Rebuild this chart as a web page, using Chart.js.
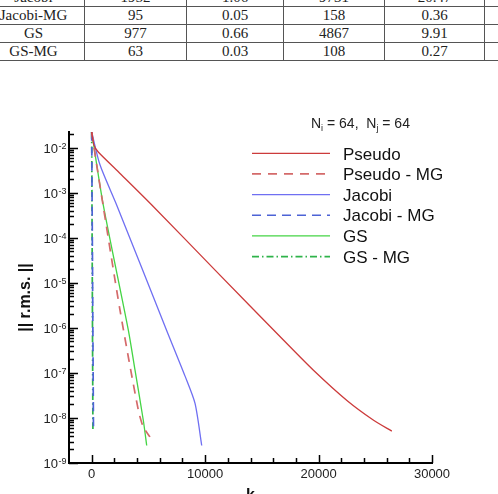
<!DOCTYPE html>
<html>
<head>
<meta charset="UTF-8">
<title>Historial de residuos</title>
<script src="https://cdn.jsdelivr.net/npm/chart.js"></script>
<style>
  body { margin:0; background:#fff; width:498px; height:494px; overflow:hidden; position:relative; }
  #grafica { position:absolute; left:0; top:0; }
  #tabla { position:absolute; left:-18px; top:-12px; border-collapse:collapse; table-layout:fixed;
           font-family:'Liberation Serif', serif; font-size:15px; color:#222; }
  #tabla td { border:1px solid #555; padding:0; text-align:center; height:17px; line-height:17px; white-space:nowrap; }
</style>
</head>
<body>

<table id="tabla"></table>
<canvas id="grafica" width="498" height="494"></canvas>

<script>
// tabla de arriba (recortada en la imagen)
const filasTabla = [
  ['Jacobi', '1952', '1.06', '9731', '20.47', ''],
  ['Jacobi-MG', '95', '0.05', '158', '0.36', ''],
  ['GS', '977', '0.66', '4867', '9.91', ''],
  ['GS-MG', '63', '0.03', '108', '0.27', '']
];
const anchosColumna = [102, 102, 97, 101, 100, 40];

// ejes
const xMarcas = [0, 10000, 20000, 30000];
const yExponentes = [-9, -8, -7, -6, -5, -4, -3, -2];

// series: iteración k y residuo rms
const kPseudo = [0, 200, 580, 2350, 5300, 10900, 16900, 19550, 22500, 24850, 26460];
const rPseudo = [2.25e-2, 1.15e-2, 8.1e-3, 2.95e-3, 5.4e-4, 1.9e-5, 5.4e-7, 1.15e-7, 2.45e-8, 8.9e-9, 5.1e-9];

const kPseudoMG = [0, 440, 1020, 2500, 4110, 4550, 5140];
const rPseudoMG = [2.25e-2, 4.2e-3, 5.0e-4, 2.45e-6, 1.5e-8, 6.3e-9, 3.8e-9];

const kJacobi = [0, 730, 2200, 6600, 8230, 9110, 9700];
const rJacobi = [2.25e-2, 4.2e-3, 5.4e-4, 8.9e-7, 8.5e-8, 2.1e-8, 2.45e-9];

const kJacobiMG = [0, 158];
const rJacobiMG = [2.25e-2, 5.4e-9];

const kGS = [0, 1020, 3230, 3820, 4550, 4850];
const rGS = [2.25e-2, 5.4e-4, 8.9e-7, 1.15e-7, 8.9e-9, 2.45e-9];

const kGSMG = [0, 108];
const rGSMG = [2.25e-2, 5.4e-9];

// armar la tabla
const tabla = document.getElementById('tabla');
const cg = document.createElement('colgroup');
anchosColumna.forEach(w => { const c = document.createElement('col'); c.style.width = w + 'px'; cg.appendChild(c); });
tabla.appendChild(cg);
filasTabla.forEach(f => {
  const tr = document.createElement('tr');
  f.forEach(t => { const td = document.createElement('td'); td.textContent = t; tr.appendChild(td); });
  tabla.appendChild(tr);
});
tabla.style.width = anchosColumna.reduce((a, b) => a + b, 0) + 'px';

function puntos(ks, rs) {
  return ks.map((k, i) => ({ x: k, y: rs[i] }));
}

const fuente = 'Liberation Sans';

// ticks hacia adentro, etiquetas 10^n, leyenda y titulos
const decoracion = {
  id: 'decoracion',
  afterDraw(chart) {
    const { ctx, chartArea: a } = chart;
    const x = chart.scales.x, y = chart.scales.y;
    ctx.save();
    ctx.strokeStyle = '#000';
    ctx.lineWidth = 1.5;
    ctx.beginPath();
    for (let v = 0; v <= x.max; v += 2000) {
      const px = Math.round(x.getPixelForValue(v)) + 0.5;
      const largo = v % 10000 === 0 ? 8 : 5;
      ctx.moveTo(px, a.bottom); ctx.lineTo(px, a.bottom - largo);
    }
    yExponentes.forEach(e => {
      for (let m = 1; m <= 9; m++) {
        const v = m * Math.pow(10, e);
        if (v > y.max) break;
        const py = Math.round(y.getPixelForValue(v)) + 0.5;
        ctx.moveTo(a.left, py); ctx.lineTo(a.left + (m === 1 ? 9 : 5), py);
      }
    });
    ctx.stroke();

    // etiquetas del eje y
    ctx.fillStyle = '#222';
    yExponentes.forEach(e => {
      const py = y.getPixelForValue(Math.pow(10, e));
      ctx.font = '13px "' + fuente + '"';
      ctx.textAlign = 'right';
      ctx.textBaseline = 'alphabetic';
      ctx.fillText('10', 58, py + 4.7);
      ctx.font = '9px "' + fuente + '"';
      ctx.textAlign = 'left';
      ctx.fillText(String(e), 58.5, py + 1);
    });

    // titulo del eje y
    ctx.save();
    ctx.translate(26, (a.top + a.bottom) / 2);
    ctx.rotate(-Math.PI / 2);
    ctx.font = 'bold 16px "' + fuente + '"';
    ctx.textAlign = 'center';
    ctx.textBaseline = 'middle';
    ctx.fillStyle = '#111';
    ctx.fillText('|| r.m.s. ||', 0, 0);
    ctx.restore();

    // titulo del eje x
    ctx.font = 'bold 16px "' + fuente + '"';
    ctx.textAlign = 'center';
    ctx.textBaseline = 'alphabetic';
    ctx.fillStyle = '#111';
    ctx.fillText('k', (a.left + a.right) / 2, 499.5);

    // N_i = 64, N_j = 64
    ctx.fillStyle = '#222';
    ctx.textAlign = 'left';
    let cx = 311;
    const trozo = (t, tam, dy) => {
      ctx.font = tam + 'px "' + fuente + '"';
      ctx.fillText(t, cx, 128.3 + dy);
      cx += ctx.measureText(t).width;
    };
    trozo('N', 14, 0); trozo('i', 9, 3); trozo(' = 64,  N', 14, 0); trozo('j', 9, 3); trozo(' = 64', 14, 0);

    // leyenda
    chart.data.datasets.forEach((ds, i) => {
      const ly = 153.3 + i * 20.65;
      ctx.strokeStyle = ds.borderColor;
      ctx.lineWidth = ds.borderWidth;
      ctx.setLineDash(ds.borderDash || []);
      ctx.beginPath();
      ctx.moveTo(252, ly); ctx.lineTo(330, ly);
      ctx.stroke();
      ctx.setLineDash([]);
      ctx.font = '17px "' + fuente + '"';
      ctx.fillStyle = '#111';
      ctx.textBaseline = 'alphabetic';
      ctx.fillText(ds.label, 343, ly + 6.2);
    });
    ctx.restore();
  }
};

const ctx = document.getElementById('grafica');
const grafica = new Chart(ctx, {
  type: 'line',
  data: {
    datasets: [
      { label: 'Pseudo', data: puntos(kPseudo, rPseudo), borderColor: '#cc3b3b', borderWidth: 1.3 },
      { label: 'Pseudo - MG', data: puntos(kPseudoMG, rPseudoMG), borderColor: '#d46a6a', borderWidth: 1.7, borderDash: [9, 7] },
      { label: 'Jacobi', data: puntos(kJacobi, rJacobi), borderColor: '#6f6ff2', borderWidth: 1.3 },
      { label: 'Jacobi - MG', data: puntos(kJacobiMG, rJacobiMG), borderColor: '#4d63d6', borderWidth: 1.7, borderDash: [9, 6] },
      { label: 'GS', data: puntos(kGS, rGS), borderColor: '#44d444', borderWidth: 1.3 },
      { label: 'GS - MG', data: puntos(kGSMG, rGSMG), borderColor: '#2fb34a', borderWidth: 1.7, borderDash: [7, 3, 1.5, 3] }
    ]
  },
  options: {
    responsive: false,
    animation: false,
    layout: { padding: { top: 132, right: 66, left: 0, bottom: 0 } },
    elements: { point: { radius: 0 }, line: { tension: 0.25, fill: false } },
    plugins: { legend: { display: false }, tooltip: { enabled: false } },
    scales: {
      x: {
        type: 'linear', min: -2000, max: 30000,
        grid: { display: false, drawTicks: false },
        border: { display: true, color: '#000', width: 2 },
        afterBuildTicks: s => { s.ticks = xMarcas.map(v => ({ value: v })); },
        afterFit: s => { s.height = 31; s.paddingLeft = 0; s.paddingRight = 0; },
        ticks: {
          font: { family: fuente, size: 13 }, color: '#222', padding: 4,
          maxRotation: 0, autoSkip: false,
          callback: v => String(v)
        }
      },
      y: {
        type: 'logarithmic', min: 1e-9, max: 2.25e-2,
        grid: { display: false, drawTicks: false },
        border: { display: true, color: '#000', width: 2 },
        afterBuildTicks: s => { s.ticks = yExponentes.map(e => ({ value: Math.pow(10, e) })); },
        afterFit: s => { s.width = 69; s.paddingTop = 0; s.paddingBottom = 0; },
        ticks: { display: false }
      }
    }
  },
  plugins: [decoracion]
});
</script>

</body>
</html>
